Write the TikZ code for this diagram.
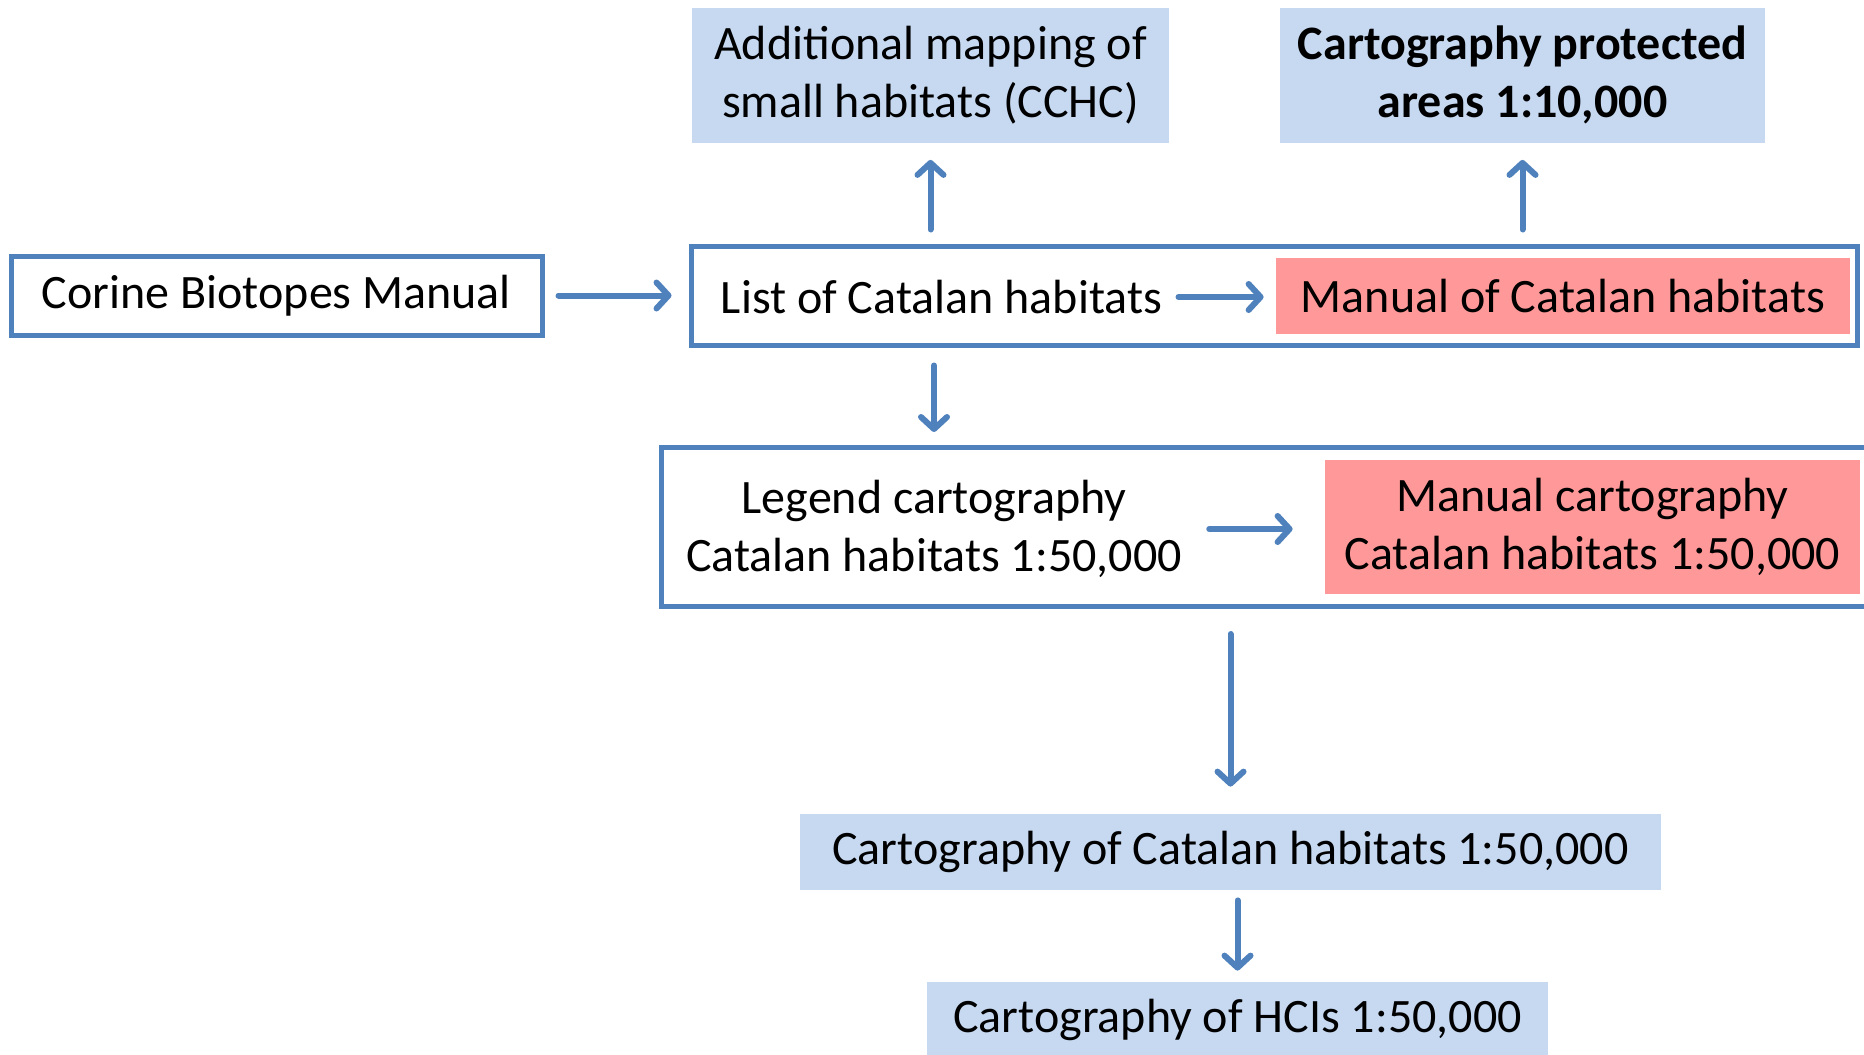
\documentclass[tikz,border=0pt]{standalone}
\usepackage{fontspec}
\setmainfont{Carlito}
\usepackage{tikz}
\usepackage{xcolor}
\usetikzlibrary{arrows.meta}

\definecolor{lineblue}{HTML}{4F81BD}
\definecolor{paleblue}{HTML}{C6D9F1}
\definecolor{salmon}{HTML}{FF9999}

\tikzset{
  frame/.style={rectangle, draw=lineblue, line width=2.5pt, inner sep=0pt},
  bluebox/.style={rectangle, fill=paleblue, inner sep=0pt, align=center},
  pinkbox/.style={rectangle, fill=salmon, inner sep=0pt, align=center},
  plain/.style={inner sep=0pt, align=center},
  arr/.style={draw=lineblue, line width=3pt, line cap=round, -{Straight Barb[length=6pt, width=13pt, round]}},
}

\begin{document}
\begin{tikzpicture}[x=0.5pt, y=-0.5pt, font=\fontsize{24}{29}\selectfont]
\useasboundingbox (0,0) rectangle (1864,1055);

% top row
\node[bluebox, minimum width=238.5pt, minimum height=67.5pt] (ADD) at (930.5,75) {Additional mapping of\\small habitats (CCHC)};
\node[bluebox, minimum width=242.5pt, minimum height=67.5pt, font=\fontsize{24}{29}\selectfont\bfseries] (CPA) at (1522.5,75) {Cartography protected\\areas 1:10,000};

% list row
\node[frame, minimum width=265.5pt, minimum height=39.5pt] (CBM) at (276.5,295.5) {Corine Biotopes Manual};
\node[frame, minimum width=583pt, minimum height=49.5pt] (LBOX) at (1274,295.5) {};
\node[plain] (LCH) at (941.5,297) {List of Catalan habitats};
\node[pinkbox, minimum width=287pt, minimum height=38pt] (MCH) at (1563,296) {Manual of Catalan habitats};

% legend row
\draw[lineblue, line width=2.5pt] (1880,447) -- (661,447) -- (661,606) -- (1880,606);
\coordinate (GTOP) at (1270,447);
\coordinate (GBOT) at (1270,606);
\node[plain] (LEG) at (934,529) {Legend cartography\\Catalan habitats 1:50,000};
\node[pinkbox, minimum width=267.5pt, minimum height=67pt] (MCC) at (1592.5,527) {Manual cartography\\Catalan habitats 1:50,000};

% bottom
\node[bluebox, minimum width=430.5pt, minimum height=38pt] (CCH) at (1230.5,852) {Cartography of Catalan habitats 1:50,000};
\node[bluebox, minimum width=310.5pt, minimum height=38pt] (HCI) at (1237.5,1020) {Cartography of HCIs 1:50,000};

% arrows
\draw[arr, shorten <=7pt, shorten >=8.5pt] (CBM.east) -- (CBM.east -| LBOX.west);
\draw[arr, shorten <=8pt, shorten >=6pt] (LCH.east) -- (LCH.east -| MCH.west);
\draw[arr, shorten <=7pt, shorten >=8.5pt] (LBOX.north -| ADD.south) -- (ADD.south);
\draw[arr, shorten <=7pt, shorten >=8.5pt] (LBOX.north -| CPA.south) -- (CPA.south);
\draw[arr, shorten <=9pt, shorten >=7.5pt] (LEG |- LBOX.south) -- (LEG |- GTOP);
\draw[arr, shorten <=13.5pt, shorten >=16pt, yshift=5pt] (LEG.east) -- (LEG.east -| MCC.west);
\draw[arr, shorten <=14pt, shorten >=13.5pt] (CCH |- GBOT) -- (CCH.north);
\draw[arr, shorten <=5pt, shorten >=5.5pt] (HCI |- CCH.south) -- (HCI.north);
\end{tikzpicture}
\end{document}
